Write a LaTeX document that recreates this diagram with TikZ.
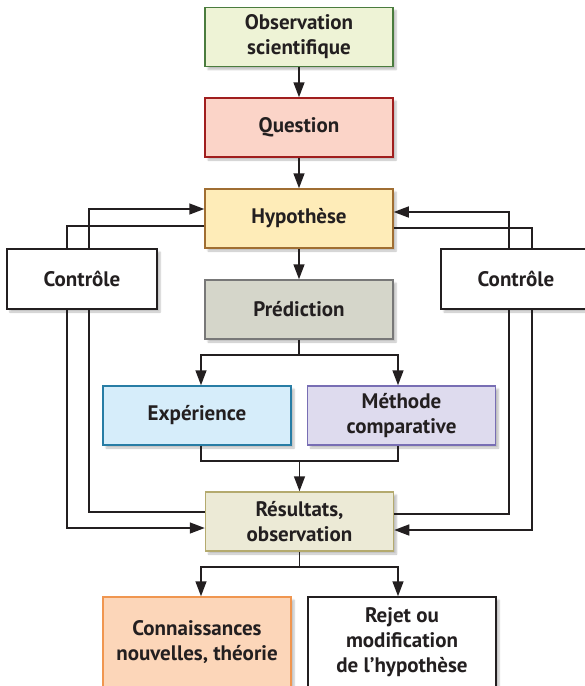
\documentclass[tikz,border=0pt]{standalone}
\usepackage{fontspec}
\setsansfont{PT Sans}
\usetikzlibrary{arrows.meta,calc,shadows.blur}
\definecolor{ink}{RGB}{35,31,32}
\definecolor{obsfill}{RGB}{238,243,214}
\definecolor{obsdraw}{RGB}{74,124,62}
\definecolor{quesfill}{RGB}{251,212,200}
\definecolor{quesdraw}{RGB}{160,30,30}
\definecolor{hypfill}{RGB}{254,236,184}
\definecolor{hypdraw}{RGB}{160,110,50}
\definecolor{predfill}{RGB}{213,214,202}
\definecolor{preddraw}{RGB}{120,120,120}
\definecolor{expfill}{RGB}{214,237,250}
\definecolor{expdraw}{RGB}{40,125,165}
\definecolor{methfill}{RGB}{222,219,238}
\definecolor{methdraw}{RGB}{120,110,180}
\definecolor{resfill}{RGB}{236,234,214}
\definecolor{resdraw}{RGB}{180,170,110}
\definecolor{connfill}{RGB}{252,214,185}
\definecolor{conndraw}{RGB}{240,150,80}
\tikzset{
  box/.style={draw=#1, line width=1.5pt, minimum width=188pt, minimum height=59pt,
              inner sep=2pt, align=center, text=ink,
              font=\sffamily\bfseries\fontsize{21}{25}\selectfont,
              blur shadow={shadow xshift=3pt, shadow yshift=-3pt, shadow opacity=25, shadow blur steps=6}},
  flow/.style={-{Triangle[length=15pt,width=11pt]}, ink, line width=1.5pt},
  wire/.style={ink, line width=1.5pt},
}
\begin{document}
\begin{tikzpicture}[x=1pt, y=-1pt]
  \useasboundingbox (0,0) rectangle (585,686);
  % colonne centrale
  \node[box=obsdraw, fill=obsfill] (obs) at (299,37) {Observation\\scientifique};
  \node[box=quesdraw, fill=quesfill] (ques) at (299,127.5) {Question};
  \node[box=hypdraw, fill=hypfill] (hyp) at (299,218.5) {Hypothèse};
  \node[box=preddraw, fill=predfill] (pred) at (299,309.5) {Prédiction};
  \node[box=expdraw, fill=expfill] (exp) at (197,415.5) {Expérience};
  \node[box=methdraw, fill=methfill] (meth) at (401.5,415.5) {Méthode\\comparative};
  \node[box=resdraw, fill=resfill] (res) at (299.5,521.5) {Résultats,\\observation};
  \node[box=conndraw, fill=connfill, minimum height=90pt] (conn) at (197,642) {Connaissances\\nouvelles, théorie};
  \node[box=ink, fill=white, minimum height=90pt] (rejet) at (402,642) {Rejet ou\\modification\\de l’hypothèse};
  % controles
  \node[box=ink, fill=white, minimum width=150pt, minimum height=60pt] (ctrlL) at (82,279) {Contrôle};
  \node[box=ink, fill=white, minimum width=150pt, minimum height=60pt] (ctrlR) at (516,279) {Contrôle};

  \draw[flow] (obs) -- (ques);
  \draw[flow] (ques) -- (hyp);
  \draw[flow] (hyp) -- (pred);
  \coordinate (fork) at (299,355);
  \draw[wire] (pred) -- (fork);
  \draw[flow] (fork) -| ($(exp.north)+(4,0)$);
  \draw[flow] (fork) -| ($(meth.north)+(-3.5,0)$);
  \coordinate (merge) at (299.5,461);
  \draw[wire] ($(exp.south)+(4,0)$) |- (merge);
  \draw[wire] ($(meth.south)+(-3.5,0)$) |- (merge);
  \draw[flow] (merge) -- (res);
  \coordinate (split) at (299.5,567);
  \draw[wire] (res) -- (split);
  \draw[flow] (split) -| ($(conn.north)+(4,0)$);
  \draw[flow] (split) -| ($(rejet.north)+(-4,0)$);

  % boucles de controle
  \draw[wire] ($(hyp.west)+(0,7.5)$) -| ($(ctrlL.north)+(-15,0)$);
  \draw[flow] ($(ctrlL.north)+(7,0)$) |- ($(hyp.west)+(0,-9.5)$);
  \draw[wire] ($(res.west)+(0,-9.5)$) -| ($(ctrlL.south)+(7,0)$);
  \draw[flow] ($(ctrlL.south)+(-15,0)$) |- ($(res.west)+(0,6.5)$);
  \draw[flow] ($(ctrlR.north)+(-7,0)$) |- ($(hyp.east)+(0,-6.5)$);
  \draw[wire] ($(hyp.east)+(0,9.5)$) -| ($(ctrlR.north)+(16,0)$);
  \draw[wire] ($(res.east)+(0,-7.5)$) -| ($(ctrlR.south)+(-7,0)$);
  \draw[flow] ($(ctrlR.south)+(16,0)$) |- ($(res.east)+(0,8.5)$);
\end{tikzpicture}
\end{document}
